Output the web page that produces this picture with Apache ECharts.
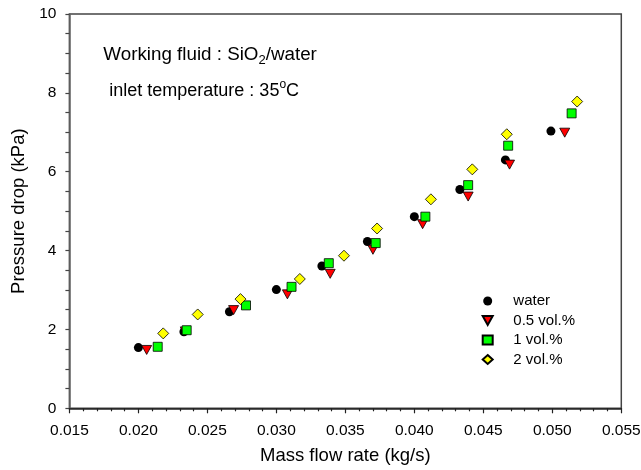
<!DOCTYPE html>
<html>
<head>
<meta charset="utf-8">
<script src="https://cdn.jsdelivr.net/npm/echarts@6/dist/echarts.min.js"></script>
<style>html,body{margin:0;padding:0;background:#fff;}#c{width:641px;height:470px;}</style>
</head>
<body>
<div id="c"></div>
<script>
// Mass flow rate (kg/s) and pressure drop (kPa) for each fluid
var massWater = [0.0200, 0.0233, 0.0266, 0.0300, 0.0333, 0.0366, 0.0400, 0.0433, 0.0466, 0.0499];
var dpWater   = [1.54, 1.94, 2.45, 3.01, 3.61, 4.23, 4.86, 5.55, 6.30, 7.03];
var mass05    = [0.0206, 0.0234, 0.0269, 0.0308, 0.0339, 0.0370, 0.0406, 0.0439, 0.0469, 0.0509];
var dp05      = [1.48, 1.95, 2.49, 2.89, 3.41, 4.02, 4.67, 5.37, 6.18, 6.99];
var mass1     = [0.0214, 0.0235, 0.0278, 0.0311, 0.0338, 0.0372, 0.0408, 0.0439, 0.0468, 0.0514];
var dp1       = [1.56, 1.98, 2.61, 3.08, 3.68, 4.19, 4.86, 5.66, 6.66, 7.48];
var mass2     = [0.0218, 0.0243, 0.0274, 0.0317, 0.0349, 0.0373, 0.0412, 0.0442, 0.0467, 0.0518];
var dp2       = [1.90, 2.38, 2.77, 3.28, 3.87, 4.56, 5.30, 6.06, 6.95, 7.78];
var seriesNames = ['water', '0.5 vol.%', '1 vol.%', '2 vol.%'];
var xTickLabels = ['0.015','0.020','0.025','0.030','0.035','0.040','0.045','0.050','0.055'];
var yTickLabels = ['0','2','4','6','8','10'];

function pairs(xs, ys) { return xs.map(function (x, i) { return [x, ys[i]]; }); }

var FONT = 'Liberation Sans, Arial, sans-serif';
var TRI_DOWN = 'path://M0,0L10,0L5,9Z';
var chart = echarts.init(document.getElementById('c'), null, {renderer: 'canvas'});
chart.setOption({
  backgroundColor: '#fff',
  animation: false,
  grid: {left: 69.4, right: 19.7, top: 14, bottom: 61.7, show: true, borderColor: '#444', borderWidth: 1.5, outerBoundsMode: 'none', containLabel: false},
  xAxis: {
    type: 'value', min: 0.015, max: 0.055, interval: 0.005,
    name: 'Mass flow rate (kg/s)', nameLocation: 'middle', nameGap: 38,
    nameTextStyle: {fontFamily: FONT, fontSize: 18.5, color: '#000'},
    axisLine: {show: true, onZero: false, lineStyle: {color: '#222', width: 1.5}},
    axisTick: {show: true, inside: false, length: 5, lineStyle: {color: '#222', width: 1.2}},
    minorTick: {show: true, splitNumber: 5, length: 3, lineStyle: {color: '#222', width: 1.2}},
    splitLine: {show: false},
    axisLabel: {fontFamily: FONT, fontSize: 15.5, color: '#000', margin: 14,
      formatter: function (v) { var i = Math.round((v - 0.015) / 0.005); return xTickLabels[i] || ''; }}
  },
  yAxis: {
    type: 'value', min: 0, max: 10, interval: 2,
    name: 'Pressure drop (kPa)', nameLocation: 'middle', nameGap: 40,
    nameTextStyle: {fontFamily: FONT, fontSize: 18.5, color: '#000'},
    axisLine: {show: true, onZero: false, lineStyle: {color: '#666', width: 1.5}},
    axisTick: {show: true, inside: false, length: 4, lineStyle: {color: '#444', width: 1.2}},
    minorTick: {show: true, splitNumber: 4, length: 4, lineStyle: {color: '#444', width: 1.2}},
    splitLine: {show: false},
    axisLabel: {fontFamily: FONT, fontSize: 15.5, color: '#000', margin: 13,
      formatter: function (v) { var i = Math.round(v / 2); return yTickLabels[i] || ''; }}
  },
  legend: {
    orient: 'vertical', left: 476.7, top: 288.5,
    itemWidth: 10, itemHeight: 9, itemGap: 4.5,
    textStyle: {fontFamily: FONT, fontSize: 15, color: '#000', padding: [0, 0, 0, 15.6]},
    data: [
      {name: seriesNames[0], icon: 'circle'},
      {name: seriesNames[1], icon: TRI_DOWN},
      {name: seriesNames[2], icon: 'rect'},
      {name: seriesNames[3], icon: 'diamond'}
    ]
  },
  graphic: [
    {type: 'text', left: 103.3, top: 43, silent: true,
     style: {text: 'Working fluid : SiO{sub|2}/water', font: '18.8px ' + FONT, fill: '#000', lineHeight: 24,
       rich: {sub: {fontSize: 13, fontFamily: FONT, lineHeight: 12, verticalAlign: 'bottom', fill: '#000'}}}},
    {type: 'text', left: 109.3, top: 79, silent: true,
     style: {text: 'inlet temperature : 35{sup|o}C', font: '18px ' + FONT, fill: '#000', lineHeight: 24,
       rich: {sup: {fontSize: 12, fontFamily: FONT, lineHeight: 12, verticalAlign: 'top', fill: '#000'}}}}
  ],
  series: [
    {name: seriesNames[0], type: 'scatter', symbol: 'circle', symbolSize: 9,
     itemStyle: {color: '#000', opacity: 1}, data: pairs(massWater, dpWater)},
    {name: seriesNames[1], type: 'scatter', symbol: TRI_DOWN, symbolSize: [10, 9],
     itemStyle: {color: '#ff0000', borderColor: '#000', borderWidth: 0.8, opacity: 1}, data: pairs(mass05, dp05)},
    {name: seriesNames[2], type: 'scatter', symbol: 'rect', symbolSize: 9,
     itemStyle: {color: '#00ff00', borderColor: '#000', borderWidth: 0.8, opacity: 1}, data: pairs(mass1, dp1)},
    {name: seriesNames[3], type: 'scatter', symbol: 'diamond', symbolSize: 11,
     itemStyle: {color: '#ffff00', borderColor: '#000', borderWidth: 0.8, opacity: 1}, data: pairs(mass2, dp2)}
  ]
});
</script>
</body>
</html>
